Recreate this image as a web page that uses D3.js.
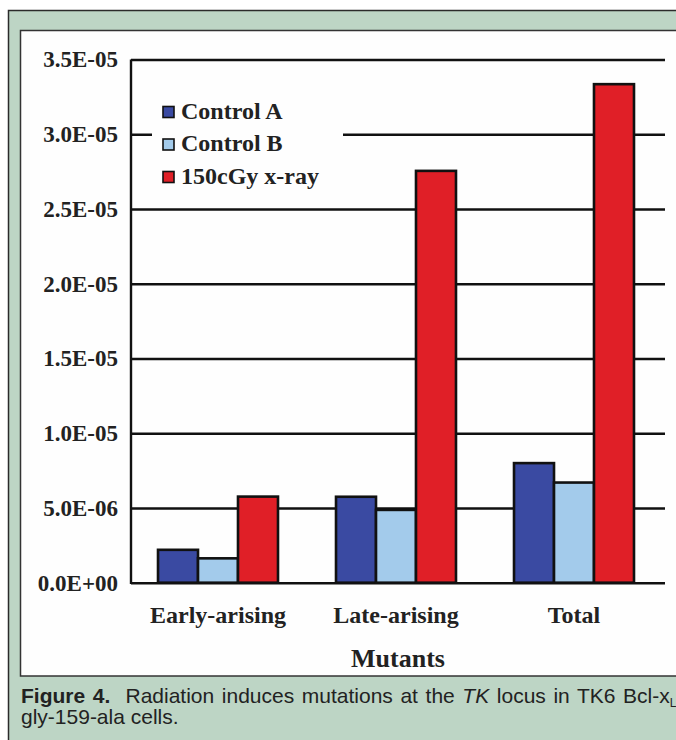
<!DOCTYPE html>
<html>
<head>
<meta charset="utf-8">
<script src="https://cdn.jsdelivr.net/npm/d3@7/dist/d3.min.js"></script>
<style>
  html, body { margin: 0; padding: 0; background: #ffffff; }
  svg { display: block; }
</style>
</head>
<body>
<svg id="chart" width="676" height="740"></svg>
<script>
// ---- data ----
const categories = ["Early-arising", "Late-arising", "Total"];
const seriesNames = ["Control A", "Control B", "150cGy x-ray"];
const controlA = [2.2e-6, 5.75e-6, 8.0e-6];
const controlB = [1.63e-6, 4.87e-6, 6.7e-6];
const xray150 = [5.76e-6, 2.755e-5, 3.335e-5];
const tickValues = [0, 5e-6, 1e-5, 1.5e-5, 2e-5, 2.5e-5, 3e-5, 3.5e-5];
const tickLabels = ["0.0E+00", "5.0E-06", "1.0E-05", "1.5E-05", "2.0E-05", "2.5E-05", "3.0E-05", "3.5E-05"];
const xTitle = "Mutants";

const colors = ["#3a4aa2", "#a3cbeb", "#e01f27"];
const seriesValues = [controlA, controlB, xray150];

const svg = d3.select("#chart");
const serif = "'Liberation Serif', 'Times New Roman', serif";
const sans = "'Liberation Sans', Arial, sans-serif";

// ---- frame ----
svg.append("rect").attr("x", 8.5).attr("y", 10.5).attr("width", 700).attr("height", 760)
  .attr("fill", "#bdd5c5").attr("stroke", "#2b2b2b").attr("stroke-width", 1.5);
svg.append("rect").attr("x", 20.5).attr("y", 30.5).attr("width", 700).attr("height", 645.5)
  .attr("fill", "#fefefe").attr("stroke", "#333").attr("stroke-width", 1.5);

// ---- scales ----
const plotLeft = 131, plotRight = 665;
const y = d3.scaleLinear().domain([0, 3.5e-5]).range([582.7, 59.5]);
const x0 = d3.scaleBand().domain(categories).range([129, 663]).paddingInner(0.326).paddingOuter(0.163);
const x1 = d3.scaleBand().domain(seriesNames).range([0, x0.bandwidth()]).padding(0);

// ---- gridlines / y axis ----
const yAxis = d3.axisLeft(y)
  .tickValues(tickValues)
  .tickFormat((d, i) => tickLabels[i])
  .tickSize(-(plotRight - plotLeft))
  .tickPadding(13);
const gy = svg.append("g").attr("transform", `translate(${plotLeft},0)`).call(yAxis);
gy.select(".domain").remove();
gy.selectAll(".tick line").attr("stroke", "#111").attr("stroke-width", 2.4);
gy.selectAll(".tick text")
  .attr("font-family", serif).attr("font-weight", "bold").attr("font-size", 23)
  .attr("fill", "#222");
svg.append("line").attr("x1", plotLeft).attr("x2", plotLeft)
  .attr("y1", y(3.5e-5)).attr("y2", y(0) + 1.2)
  .attr("stroke", "#111").attr("stroke-width", 2.4);

// ---- bars ----
const groups = svg.append("g").selectAll("g").data(categories).join("g")
  .attr("transform", d => `translate(${x0(d)},0)`);
groups.selectAll("rect")
  .data((c, ci) => seriesNames.map((s, si) => ({ s, si, v: seriesValues[si][ci] })))
  .join("rect")
  .attr("x", d => x1(d.s))
  .attr("width", x1.bandwidth())
  .attr("y", d => y(d.v))
  .attr("height", d => y(0) - y(d.v))
  .attr("fill", d => colors[d.si])
  .attr("stroke", "#111").attr("stroke-width", 2.6);

// ---- x labels ----
svg.append("g").selectAll("text").data(categories).join("text")
  .attr("x", d => x0(d) + x0.bandwidth() / 2)
  .attr("y", 623)
  .attr("text-anchor", "middle")
  .attr("font-family", serif).attr("font-weight", "bold").attr("font-size", 24)
  .attr("fill", "#222")
  .text(d => d);
svg.append("text").attr("x", 398).attr("y", 667).attr("text-anchor", "middle")
  .attr("font-family", serif).attr("font-weight", "bold").attr("font-size", 26)
  .attr("fill", "#222").text(xTitle);

// ---- legend ----
const lg = svg.append("g");
lg.append("rect").attr("x", 152).attr("y", 92).attr("width", 191).attr("height", 102).attr("fill", "#fefefe");
const items = lg.selectAll("g").data(seriesNames).join("g")
  .attr("transform", (d, i) => `translate(0,${i * 32.5})`);
items.append("rect").attr("x", 163).attr("y", 106.5).attr("width", 11).attr("height", 11)
  .attr("fill", (d, i) => colors[i]).attr("stroke", "#111").attr("stroke-width", 1.6);
items.append("text").attr("x", 181).attr("y", 118.5)
  .attr("font-family", serif).attr("font-weight", "bold").attr("font-size", 24)
  .attr("fill", "#222").text(d => d);

// ---- caption ----
const cap = svg.append("text").attr("x", 21).attr("y", 703)
  .attr("font-family", sans).attr("font-size", 21).attr("fill", "#222")
  .style("white-space", "pre");
cap.append("tspan").attr("font-weight", "bold").text("Figure 4.");
cap.append("tspan").text("  Radiation induces mutations at the ");
cap.append("tspan").attr("font-style", "italic").text("TK");
cap.append("tspan").text(" locus in TK6 Bcl-x");
const natural = cap.node().getComputedTextLength();
const nSpaces = 11;
const target = 668 - 21;
cap.attr("word-spacing", (target - natural) / nSpaces);
cap.append("tspan").attr("font-size", 12).attr("dy", 4).attr("word-spacing", 0).text("L");

svg.append("text").attr("x", 21).attr("y", 724)
  .attr("font-family", sans).attr("font-size", 21).attr("fill", "#222")
  .text("gly-159-ala cells.");
</script>
</body>
</html>
